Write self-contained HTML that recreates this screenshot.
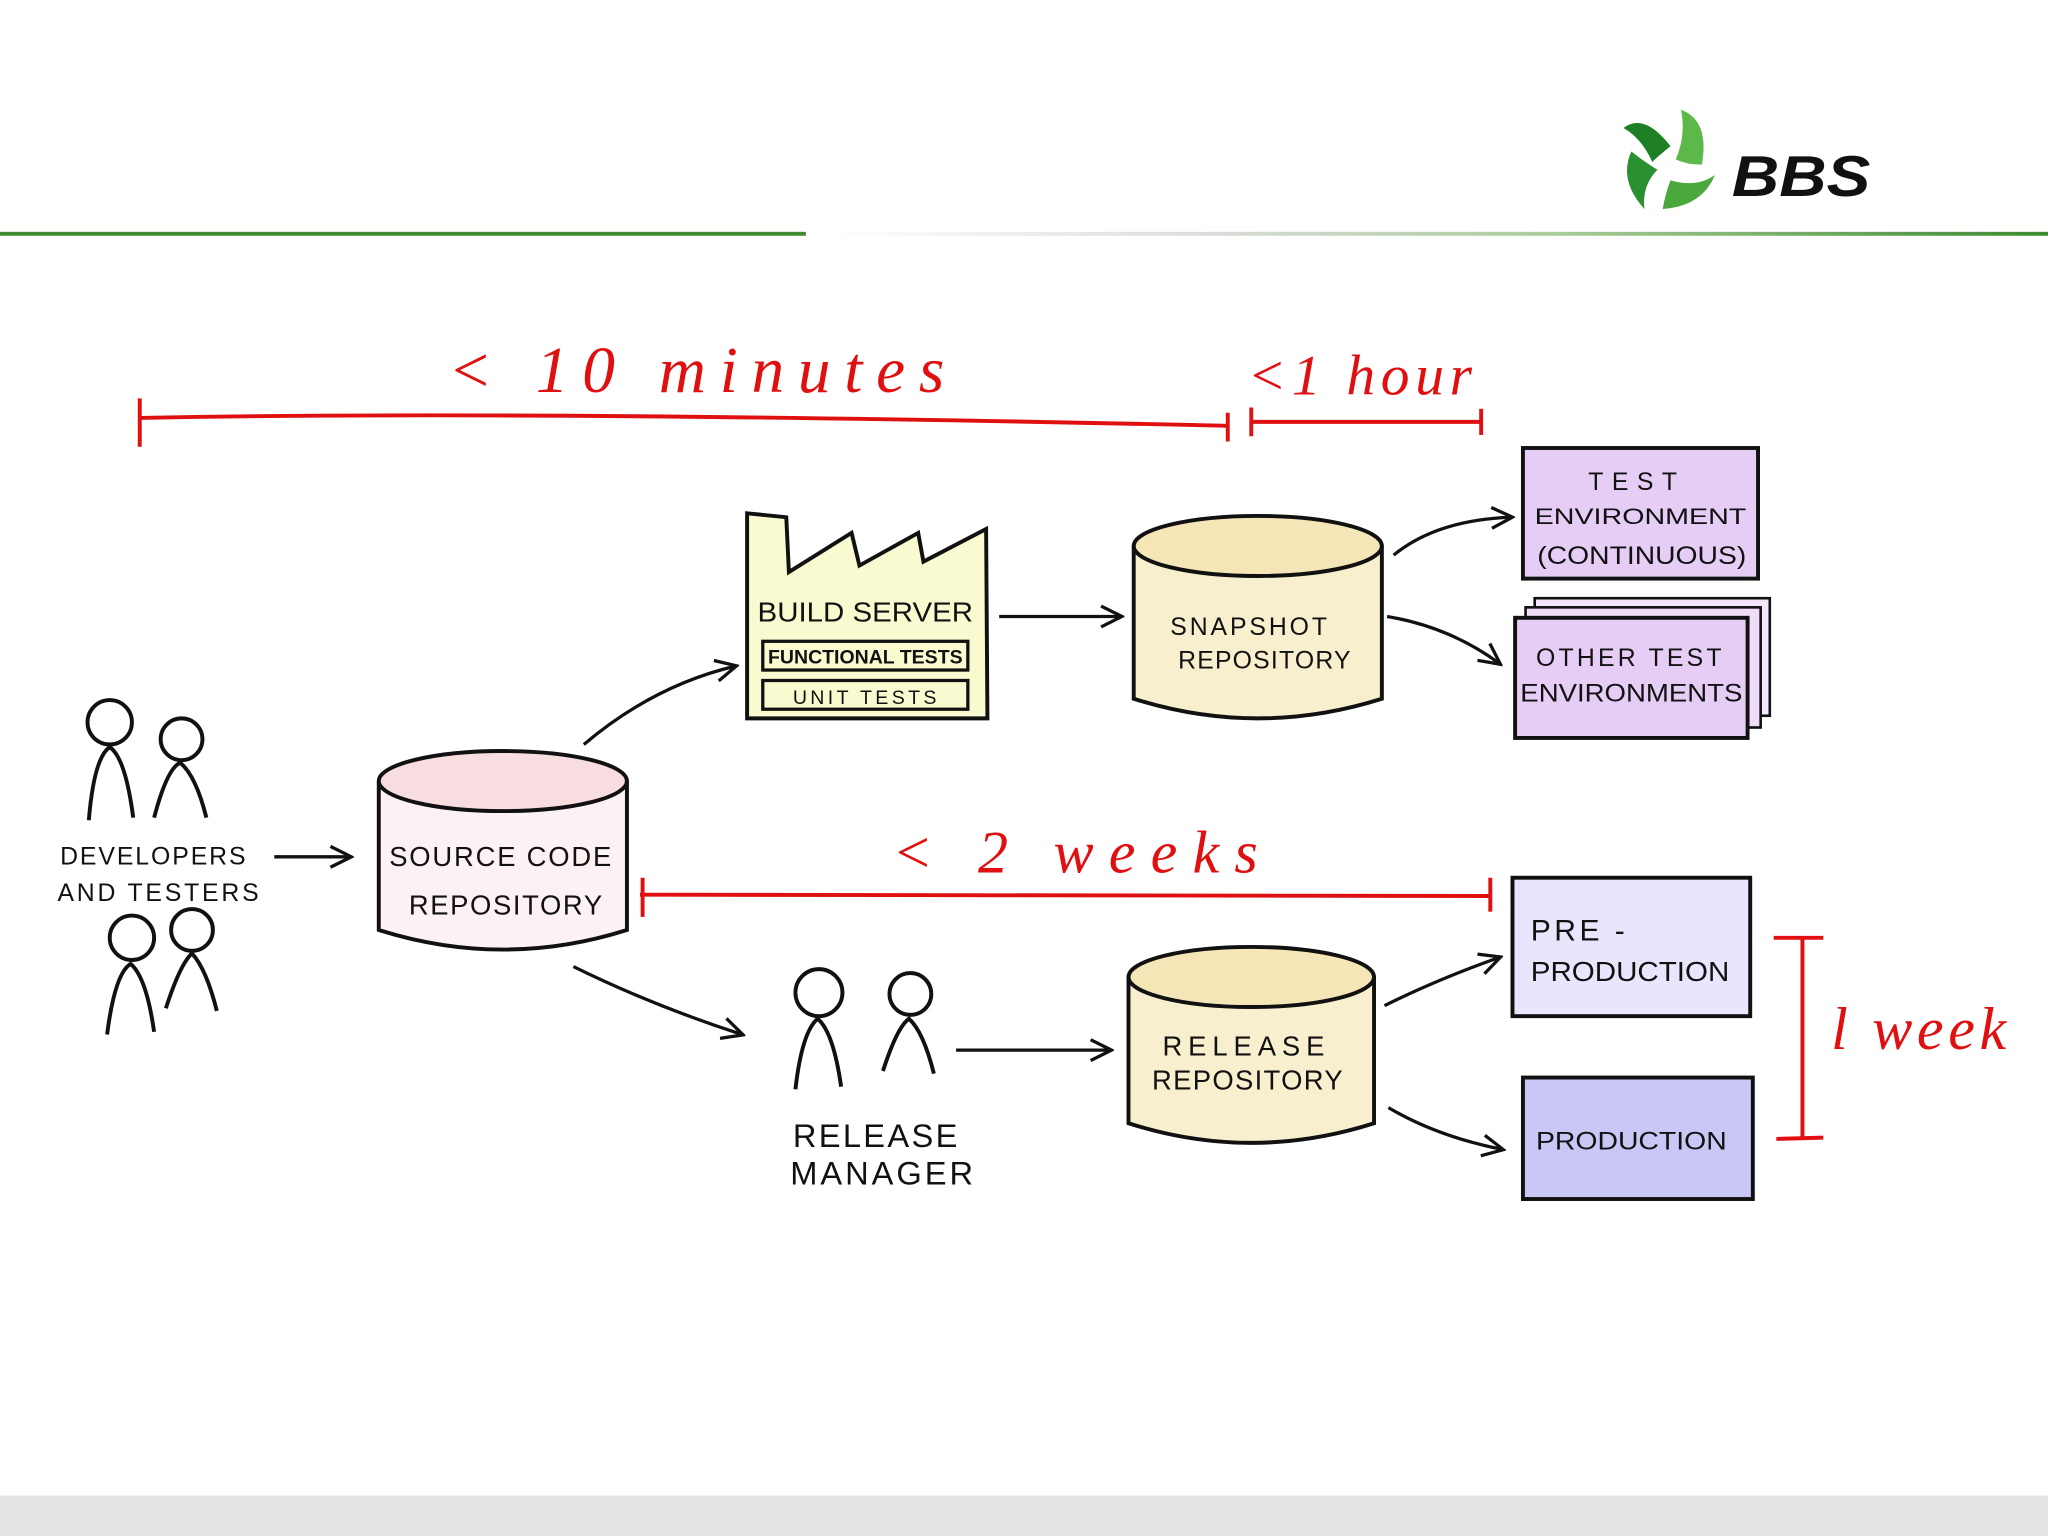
<!DOCTYPE html>
<html><head><meta charset="utf-8"><style>
html,body{margin:0;padding:0;background:#fff;width:2048px;height:1536px;overflow:hidden}
svg{display:block}
.h{font-family:"Liberation Sans",sans-serif;fill:#111}
.r{font-family:"Liberation Serif",serif;font-style:italic;fill:#e01010}
</style></head><body>
<svg width="2048" height="1536" viewBox="0 0 1568 1176" xmlns="http://www.w3.org/2000/svg">
<defs>
<linearGradient id="gl" x1="0" x2="1"><stop offset="0" stop-color="#fff"/><stop offset="0.3" stop-color="#ddd"/><stop offset="0.6" stop-color="#a8cc98"/><stop offset="1" stop-color="#3c8a30"/></linearGradient>
<marker id="a" viewBox="0 0 20 20" refX="17" refY="10" markerWidth="20" markerHeight="20" orient="auto" markerUnits="userSpaceOnUse"><path d="M2 2 L18 10 L2 18" fill="none" stroke="#111" stroke-width="2.5"/></marker>
</defs>
<rect width="1568" height="1176" fill="#fff"/>
<rect y="1145" width="1568" height="31" fill="#e4e4e2"/>
<rect x="0" y="177.5" width="617" height="3" fill="#3f8a33"/>
<rect x="630" y="177.5" width="938" height="3" fill="url(#gl)"/>
<!-- logo -->
<g transform="translate(1279,122)">
<path d="M-36 -24 Q-20 -36 0 -10 Q-10 -2 -14 2 Q-22 -16 -36 -24Z" fill="#1f7f25"/>
<path d="M8 -38 Q30 -30 24 4 Q12 4 4 0 Q12 -18 8 -38Z" fill="#5cb848"/>
<path d="M34 12 Q24 36 -6 38 Q-4 26 0 16 Q20 22 34 12Z" fill="#4aa83c"/>
<path d="M-20 38 Q-40 16 -30 -6 Q-20 2 -10 8 Q-22 20 -20 38Z" fill="#2a8f2e"/>
</g>
<text x="1326" y="150" font-family="Liberation Sans,sans-serif" font-weight="bold" font-style="italic" font-size="44" fill="#111" textLength="106" lengthAdjust="spacingAndGlyphs">BBS</text>
<!-- red timelines -->
<g stroke="#e01010" stroke-width="3" fill="none">
<path d="M107 320 Q400 314 940 326"/><path d="M107 305 L107 342"/><path d="M940 316 L940 338"/>
<path d="M958 323 L1134 323"/><path d="M958 312 L958 334"/><path d="M1134 313 L1134 333"/>
<path d="M490 685 L1141 686"/><path d="M492 672 L492 702"/><path d="M1141 672 L1141 698"/>
<path d="M1380 718 L1380 872"/><path d="M1358 718 L1396 718"/><path d="M1360 872 L1396 871"/>
</g>
<text class="r" x="343" y="300" font-size="50" textLength="380" lengthAdjust="spacing">&lt; 10  minutes</text>
<text class="r" x="955" y="302" font-size="44" textLength="172" lengthAdjust="spacing">&lt;1 hour</text>
<text class="r" x="683" y="668" font-size="46" textLength="280" lengthAdjust="spacing">&lt; 2  weeks</text>
<text class="r" x="1402" y="803" font-size="46" textLength="134" lengthAdjust="spacing">l week</text>
<!-- build server -->
<path d="M572 393 L602 396 L604 438 L652 408 L658 433 L703 408 L707 430 L755 405 L756 550 L572 550Z" fill="#fafad0" stroke="#111" stroke-width="3"/>
<text class="h" x="580" y="476" font-size="21" textLength="165" lengthAdjust="spacingAndGlyphs">BUILD SERVER</text>
<rect x="584" y="491" width="157" height="22" fill="none" stroke="#111" stroke-width="2.5"/>
<text class="h" x="588" y="508" font-size="14.5" font-weight="bold" textLength="149" lengthAdjust="spacingAndGlyphs">FUNCTIONAL TESTS</text>
<rect x="584" y="521" width="157" height="22" fill="none" stroke="#111" stroke-width="2.5"/>
<text class="h" x="607" y="539" font-size="15" textLength="110" lengthAdjust="spacing">UNIT TESTS</text>
<!-- cylinders -->
<g stroke="#111" stroke-width="3">
<path d="M868 418 L868 535 Q963 565 1058 535 L1058 418" fill="#f8efcf"/>
<ellipse cx="963" cy="418" rx="95" ry="23" fill="#f5e6b8"/>
<path d="M290 598 L290 712 Q385 742 480 712 L480 598" fill="#fdf2f3"/>
<ellipse cx="385" cy="598" rx="95" ry="23" fill="#f8dde0"/>
<path d="M864 748 L864 860 Q958 890 1052 860 L1052 748" fill="#f8efcf"/>
<ellipse cx="958" cy="748" rx="94" ry="23" fill="#f5e6b8"/>
</g>
<text class="h" x="896" y="486" font-size="19" textLength="120" lengthAdjust="spacing">SNAPSHOT</text>
<text class="h" x="902" y="512" font-size="19" textLength="132" lengthAdjust="spacing">REPOSITORY</text>
<text class="h" x="298" y="663" font-size="21" textLength="170" lengthAdjust="spacing">SOURCE CODE</text>
<text class="h" x="313" y="700" font-size="21" textLength="148" lengthAdjust="spacing">REPOSITORY</text>
<text class="h" x="890" y="808" font-size="21" textLength="124" lengthAdjust="spacing">RELEASE</text>
<text class="h" x="882" y="834" font-size="21" textLength="146" lengthAdjust="spacing">REPOSITORY</text>
<!-- env boxes -->
<g stroke="#111" stroke-width="3">
<rect x="1166" y="343" width="180" height="100" fill="#e6cdf6"/>
<rect x="1175" y="458" width="180" height="90" fill="#f3e6fb" stroke-width="2"/>
<rect x="1168" y="465" width="180" height="92" fill="#eedcf9" stroke-width="2"/>
<rect x="1160" y="473" width="178" height="92" fill="#e6cdf6"/>
<rect x="1158" y="672" width="182" height="106" fill="#e8e6fc"/>
<rect x="1166" y="825" width="176" height="93" fill="#c8c7f6"/>
</g>
<text class="h" x="1216" y="375" font-size="19" textLength="68" lengthAdjust="spacing">TEST</text>
<text class="h" x="1175" y="401" font-size="17" textLength="162" lengthAdjust="spacingAndGlyphs">ENVIRONMENT</text>
<text class="h" x="1177" y="432" font-size="19" textLength="160" lengthAdjust="spacingAndGlyphs">(CONTINUOUS)</text>
<text class="h" x="1176" y="510" font-size="19" textLength="142" lengthAdjust="spacing">OTHER TEST</text>
<text class="h" x="1164" y="537" font-size="19" textLength="170" lengthAdjust="spacingAndGlyphs">ENVIRONMENTS</text>
<text class="h" x="1172" y="720" font-size="23" textLength="72" lengthAdjust="spacing">PRE -</text>
<text class="h" x="1172" y="751" font-size="21" textLength="152" lengthAdjust="spacingAndGlyphs">PRODUCTION</text>
<text class="h" x="1176" y="880" font-size="19" textLength="146" lengthAdjust="spacingAndGlyphs">PRODUCTION</text>
<!-- people -->
<g fill="none" stroke="#111" stroke-width="3">
<circle cx="84" cy="553" r="17"/><path d="M68 628 Q72 580 84 572 Q96 580 102 626"/>
<circle cx="139" cy="566" r="16"/><path d="M118 626 Q128 588 138 584 Q150 594 158 626"/>
<circle cx="101" cy="718" r="17"/><path d="M82 792 Q88 745 100 738 Q112 748 118 790"/>
<circle cx="147" cy="712" r="16"/><path d="M127 772 Q138 738 147 730 Q158 742 166 774"/>
<circle cx="627" cy="760" r="18"/><path d="M609 834 Q614 790 626 780 Q638 790 644 832"/>
<circle cx="697" cy="761" r="16"/><path d="M676 820 Q687 786 696 780 Q707 790 715 822"/>
</g>
<text class="h" x="46" y="662" font-size="19" textLength="142" lengthAdjust="spacing">DEVELOPERS</text>
<text class="h" x="44" y="690" font-size="19" textLength="154" lengthAdjust="spacing">AND TESTERS</text>
<text class="h" x="607" y="878" font-size="25" textLength="126" lengthAdjust="spacing">RELEASE</text>
<text class="h" x="605" y="907" font-size="25" textLength="140" lengthAdjust="spacing">MANAGER</text>
<!-- arrows -->
<g fill="none" stroke="#111" stroke-width="2.5" marker-end="url(#a)">
<path d="M210 656 L268 656"/>
<path d="M447 570 Q500 525 563 510"/>
<path d="M765 472 L858 472"/>
<path d="M1067 425 Q1100 398 1157 396"/>
<path d="M1062 472 Q1110 480 1148 508"/>
<path d="M439 740 Q500 770 568 792"/>
<path d="M732 804 L850 804"/>
<path d="M1060 770 Q1100 750 1148 733"/>
<path d="M1063 848 Q1100 870 1150 880"/>
</g>
</svg>
</body></html>
